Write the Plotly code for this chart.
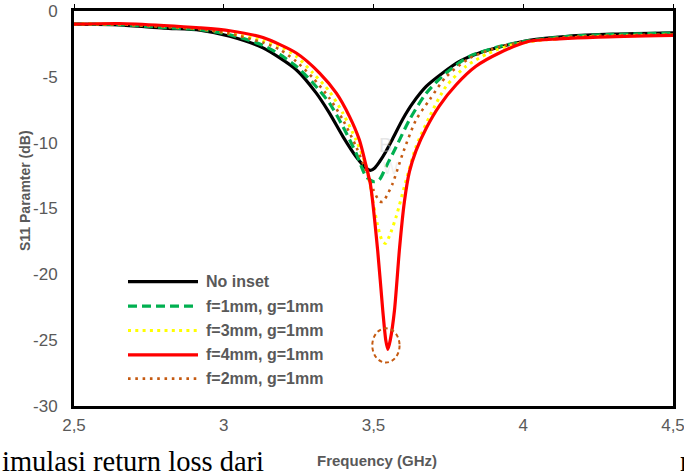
import plotly.graph_objects as go

# ---------------- data ----------------
f_no_inset = [2.5, 2.65, 2.8, 2.92, 3.02, 3.131, 3.242, 3.309, 3.353, 3.398, 3.442, 3.476, 3.49,
              3.505, 3.52, 3.542, 3.564, 3.598, 3.631, 3.676, 3.731, 3.787, 3.853, 3.931, 4.02,
              4.15, 4.3, 4.5]
s_no_inset = [-1.0, -1.05, -1.3, -1.45, -1.92, -2.8, -4.46, -6.24, -7.76, -9.54, -11.07, -11.95, -12.1,
              -11.9, -11.45, -10.65, -9.7, -8.2, -7.0, -5.73, -4.71, -3.83, -3.19, -2.68, -2.22,
              -1.92, -1.76, -1.66]

f_f1 = [2.5, 2.65, 2.8, 2.92, 3.02, 3.131, 3.187, 3.242, 3.298, 3.353, 3.398, 3.442, 3.476, 3.503,
        3.52, 3.542, 3.576, 3.62, 3.676, 3.742, 3.82, 3.92, 4.02, 4.15, 4.3, 4.5]
s_f1 = [-1.0, -1.03, -1.25, -1.42, -1.8, -2.6, -3.3, -4.2, -5.47, -7.0, -8.78, -10.8, -12.6, -12.97,
        -12.8, -11.83, -10.3, -8.27, -6.24, -4.71, -3.45, -2.7, -2.25, -1.93, -1.78, -1.68]

f_f3 = [2.5, 2.65, 2.8, 2.92, 3.02, 3.131, 3.187, 3.242, 3.298, 3.353, 3.398, 3.442, 3.476, 3.497,
        3.514, 3.53, 3.54, 3.553, 3.576, 3.609, 3.642, 3.687, 3.742, 3.809, 3.88, 3.95, 4.05,
        4.2, 4.5]
s_f3 = [-1.0, -1.0, -1.17, -1.35, -1.68, -2.25, -2.68, -3.44, -4.71, -6.11, -7.76, -9.8, -11.83, -14.3,
        -16.3, -17.5, -17.65, -17.1, -15.6, -12.85, -10.3, -8.02, -5.73, -4.2, -3.25, -2.65, -2.25,
        -1.98, -1.82]

f_f4 = [2.5, 2.65, 2.8, 2.92, 3.02, 3.131, 3.242, 3.32, 3.376, 3.42, 3.453, 3.476, 3.49, 3.514,
        3.531, 3.541, 3.548, 3.556, 3.57, 3.587, 3.603, 3.62, 3.642, 3.676, 3.72, 3.776, 3.842,
        3.92, 4.02, 4.12, 4.25, 4.5]
s_f4 = [-1.0, -0.95, -1.1, -1.28, -1.5, -2.02, -3.19, -4.71, -6.24, -8.02, -9.8, -11.83, -13.2, -18.2,
        -22.75, -25.0, -25.7, -25.0, -22.75, -18.0, -14.5, -12.2, -10.6, -8.9, -7.2, -5.6, -4.2,
        -3.19, -2.3, -2.12, -1.98, -1.85]

f_f2 = [2.5, 2.65, 2.8, 2.92, 3.02, 3.131, 3.187, 3.242, 3.298, 3.353, 3.398, 3.442, 3.476, 3.5,
        3.52, 3.531, 3.545, 3.564, 3.598, 3.642, 3.687, 3.742, 3.82, 3.92, 4.02, 4.15, 4.3, 4.5]
s_f2 = [-1.0, -1.02, -1.2, -1.38, -1.72, -2.4, -2.93, -3.83, -5.09, -6.62, -8.27, -10.3, -12.2, -13.6,
        -14.45, -14.5, -14.0, -13.1, -10.8, -8.27, -6.75, -5.0, -3.6, -2.72, -2.27, -1.97, -1.85, -1.78]

series_names = ["No inset", "f=1mm, g=1mm", "f=3mm, g=1mm", "f=4mm, g=1mm", "f=2mm, g=1mm"]

x_tickvals = [2.5, 3, 3.5, 4, 4.5]
x_ticktext = ["2,5", "3", "3,5", "4", "4,5"]
y_tickvals = [0, -5, -10, -15, -20, -25, -30]
y_ticktext = ["0", "-5", "-10", "-15", "-20", "-25", "-30"]

x_title = "Frequency (GHz)"
y_title = "S11 Paramter (dB)"

# ---------------- styles ----------------
GRAY = "#595959"
styles = {
    "No inset": dict(color="#000000", width=3.2, dash="solid"),
    "f=1mm, g=1mm": dict(color="#00B050", width=3.2, dash="9px,5px"),
    "f=3mm, g=1mm": dict(color="#FFFF00", width=3, dash="3px,4.3px"),
    "f=4mm, g=1mm": dict(color="#FF0000", width=3.2, dash="solid"),
    "f=2mm, g=1mm": dict(color="#C55A11", width=2.6, dash="2.6px,4.7px"),
}
data = {
    "No inset": (f_no_inset, s_no_inset),
    "f=1mm, g=1mm": (f_f1, s_f1),
    "f=3mm, g=1mm": (f_f3, s_f3),
    "f=4mm, g=1mm": (f_f4, s_f4),
    "f=2mm, g=1mm": (f_f2, s_f2),
}
draw_order = ["No inset", "f=1mm, g=1mm", "f=3mm, g=1mm", "f=2mm, g=1mm", "f=4mm, g=1mm"]

fig = go.Figure()
for name in draw_order:
    fx, sy = data[name]
    st = styles[name]
    fig.add_trace(go.Scatter(
        x=fx, y=sy, name=name, mode="lines",
        line=dict(color=st["color"], width=st["width"], dash=st["dash"],
                  shape="spline", smoothing=0.7),
        showlegend=False,
        xaxis="x2" if name == "f=4mm, g=1mm" else "x",
    ))

# plot-area geometry in pixels (for paper-coordinate placement)
W, H = 684, 475
L, R, T, B = 74, 11, 11, 69
pw, ph = W - L - R, H - T - B


def px_x(p):
    return (p - L) / pw


def px_y(p):
    return (H - B - p) / ph


# manual legend (long line samples like the reference)
legend_rows = [281.7, 306.2, 330.5, 354.8, 378.6]
ann = []
shapes = []
for name, ry in zip(series_names, legend_rows):
    st = styles[name]
    shapes.append(dict(type="line", xref="paper", yref="paper",
                       x0=px_x(128), x1=px_x(198), y0=px_y(ry), y1=px_y(ry),
                       line=dict(color=st["color"], width=st["width"], dash=st["dash"])))
    ann.append(dict(text=name, xref="paper", yref="paper", x=px_x(204), y=px_y(ry),
                    xanchor="left", yanchor="middle", showarrow=False,
                    font=dict(family="Liberation Sans, Arial", size=16, color=GRAY, weight="bold")))

# dashed circle highlighting the deepest resonance
shapes.append(dict(type="circle", xref="x", yref="y", x0=3.496, x1=3.587, y0=-24.1, y1=-26.7,
                   line=dict(color="#C55A11", width=2, dash="4px,3px")))

# axis titles
ann.append(dict(text=y_title, xref="paper", yref="paper", x=px_x(25), y=px_y(190),
                textangle=-90, showarrow=False, xanchor="center", yanchor="middle",
                font=dict(family="Liberation Sans, Arial", size=14, color=GRAY, weight="bold")))
ann.append(dict(text=x_title, xref="paper", yref="paper", x=px_x(376.5), y=px_y(460),
                showarrow=False, xanchor="center", yanchor="middle",
                font=dict(family="Liberation Sans, Arial", size=15, color=GRAY, weight="bold")))

# faint watermark letters
ann.append(dict(text="B", xref="paper", yref="paper", x=px_x(385), y=px_y(132), showarrow=False,
                font=dict(family="Liberation Sans, Arial", size=20, color="rgba(200,200,200,0.45)")))
ann.append(dict(text="W", xref="paper", yref="paper", x=px_x(391), y=px_y(168), showarrow=False,
                font=dict(family="Liberation Sans, Arial", size=16, color="rgba(235,235,235,0.8)")))

# surrounding document text (cropped)
ann.append(dict(text="imulasi return loss dari", xref="paper", yref="paper", x=px_x(0), y=px_y(461),
                xanchor="left", yanchor="middle", showarrow=False,
                font=dict(family="Liberation Serif, Times New Roman", size=28.5, color="#000000")))
ann.append(dict(text="n", xref="paper", yref="paper", x=px_x(678), y=px_y(461),
                xanchor="left", yanchor="middle", showarrow=False,
                font=dict(family="Liberation Serif, Times New Roman", size=28.5, color="#000000")))

tickfont = dict(family="Liberation Sans Narrow, Arial Narrow, Liberation Sans", size=17, color=GRAY)

fig.update_layout(
    width=W, height=H,
    margin=dict(l=L, r=R, t=T, b=B, pad=0),
    paper_bgcolor="white", plot_bgcolor="white",
    showlegend=False,
    xaxis=dict(range=[2.5, 4.5], tickvals=x_tickvals, ticktext=x_ticktext, ticks="",
               showgrid=False, zeroline=False, showline=True, linecolor="black", linewidth=3,
               mirror=True, tickfont=tickfont, ticklabelstandoff=2, automargin=False,
               ticklabeloverflow="allow"),
    xaxis2=dict(range=[2.5, 4.5], overlaying="x", matches="x", side="top", anchor="y",
                tickvals=x_tickvals, ticks="outside", ticklen=6, tickwidth=1.3, tickcolor="black",
                showticklabels=False, showgrid=False, zeroline=False, showline=False,
                automargin=False),
    yaxis=dict(range=[-30, 0], tickvals=y_tickvals, ticktext=y_ticktext, ticks="",
               showgrid=False, zeroline=False, showline=True, linecolor="black", linewidth=3,
               mirror=True, tickfont=tickfont, ticklabelstandoff=10, automargin=False,
               ticklabeloverflow="allow"),
    shapes=shapes,
    annotations=ann,
)

fig.write_html(
    "out.html",
    config={"displayModeBar": False},
    post_script="document.body.style.margin='0';document.body.style.overflow='hidden';",
)
